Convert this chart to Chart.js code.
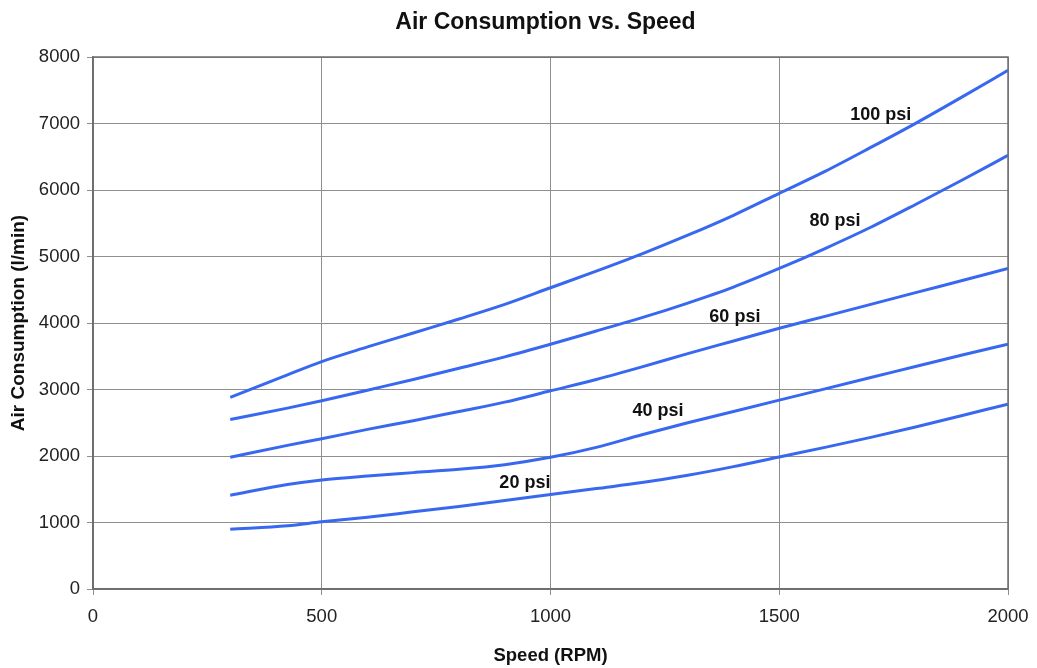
<!DOCTYPE html>
<html><head><meta charset="utf-8">
<script src="https://cdn.jsdelivr.net/npm/chart.js@4/dist/chart.umd.min.js"></script>
<style>html,body{margin:0;padding:0;background:#fff}#wrap{width:1037px;height:668px}</style>
</head><body><div id="wrap"><canvas id="c" width="1037" height="668"></canvas></div>
<script>
const chartTitle = 'Air Consumption vs. Speed';
const speeds = [300, 425, 500, 600, 700, 800, 900, 1000, 1100, 1200, 1300, 1400, 1500, 1600, 1700, 1800, 1900, 2000];
const psi100 = [2880, 3220, 3420, 3640, 3850, 4060, 4280, 4530, 4780, 5040, 5320, 5620, 5950, 6280, 6640, 7010, 7400, 7800];
const psi80  = [2550, 2720, 2830, 2990, 3150, 3320, 3490, 3680, 3880, 4080, 4300, 4540, 4820, 5120, 5440, 5790, 6150, 6520];
const psi60  = [1980, 2160, 2260, 2400, 2530, 2670, 2810, 2980, 3150, 3340, 3540, 3730, 3920, 4100, 4280, 4460, 4640, 4820];
const psi40  = [1410, 1570, 1640, 1700, 1750, 1800, 1870, 1980, 2130, 2320, 2500, 2670, 2840, 3010, 3180, 3350, 3520, 3680];
const psi20  = [900, 950, 1010, 1080, 1160, 1240, 1330, 1420, 1510, 1600, 1710, 1840, 1985, 2130, 2280, 2440, 2610, 2780];
const seriesNames = ['100 psi', '80 psi', '60 psi', '40 psi', '20 psi'];
const labelPos = [[1722, 7130], [1622, 5530], [1403, 4090], [1235, 2680], [944, 1590]];

const lineColor = '#3868F0';
const allSeries = [psi100, psi80, psi60, psi40, psi20];
const datasets = allSeries.map((arr, i) => ({
  label: seriesNames[i],
  data: speeds.map((s, j) => ({x: s, y: arr[j]})),
  borderColor: lineColor,
  borderWidth: 3,
  pointRadius: 0,
  cubicInterpolationMode: 'monotone',
  fill: false
}));

const FONT = '"Liberation Sans", Arial, sans-serif';
const borderPlugin = {
  id: 'boxAndLabels',
  afterDraw(chart) {
    const {ctx, chartArea: a, scales} = chart;
    ctx.save();
    ctx.strokeStyle = '#6e6e6e';
    ctx.lineWidth = 1.5;
    ctx.strokeRect(a.left, a.top, a.right - a.left, a.bottom - a.top);
    ctx.fillStyle = '#111';
    ctx.textAlign = 'center';
    ctx.textBaseline = 'middle';
    ctx.font = 'bold 23px ' + FONT;
    ctx.fillText(chartTitle, (a.left + a.right) / 2 - 5, 23);
    ctx.font = 'bold 18px ' + FONT;
    seriesNames.forEach((n, i) => {
      ctx.fillText(n, scales.x.getPixelForValue(labelPos[i][0]), scales.y.getPixelForValue(labelPos[i][1]));
    });
    ctx.restore();
  }
};

Chart.defaults.font.family = FONT;
new Chart(document.getElementById('c'), {
  type: 'line',
  data: {datasets},
  options: {
    responsive: false,
    animation: false,
    devicePixelRatio: 1,
    layout: {padding: {top: 57, right: 29, bottom: 0, left: 0}},
    plugins: {
      legend: {display: false},
      tooltip: {enabled: false},
      title: {display: false}
    },
    scales: {
      x: {
        type: 'linear', min: 0, max: 2000,
        ticks: {stepSize: 500, color: '#222', font: {size: 18.5}, padding: 11, maxRotation: 0, callback: v => String(v)},
        grid: {color: '#8f8f8f', lineWidth: 1, tickLength: 6},
        border: {color: '#6e6e6e', width: 1.5},
        title: {display: true, text: 'Speed (RPM)', color: '#111', font: {size: 18.5, weight: 'bold'}, padding: {top: 10, bottom: 1}},
        afterFit(s) { s.height = 79; s.paddingRight = 0; s.paddingLeft = 0; }
      },
      y: {
        min: 0, max: 8000,
        ticks: {stepSize: 1000, color: '#222', font: {size: 18.5}, padding: 7, callback: v => String(v)},
        grid: {color: '#8f8f8f', lineWidth: 1, tickLength: 6},
        border: {color: '#6e6e6e', width: 1.5},
        title: {display: true, text: 'Air Consumption (l/min)', color: '#111', font: {size: 19, weight: 'bold'}, padding: {top: 7, bottom: 8}},
        afterFit(s) { s.width = 93; }
      }
    }
  },
  plugins: [borderPlugin]
});
</script></body></html>
